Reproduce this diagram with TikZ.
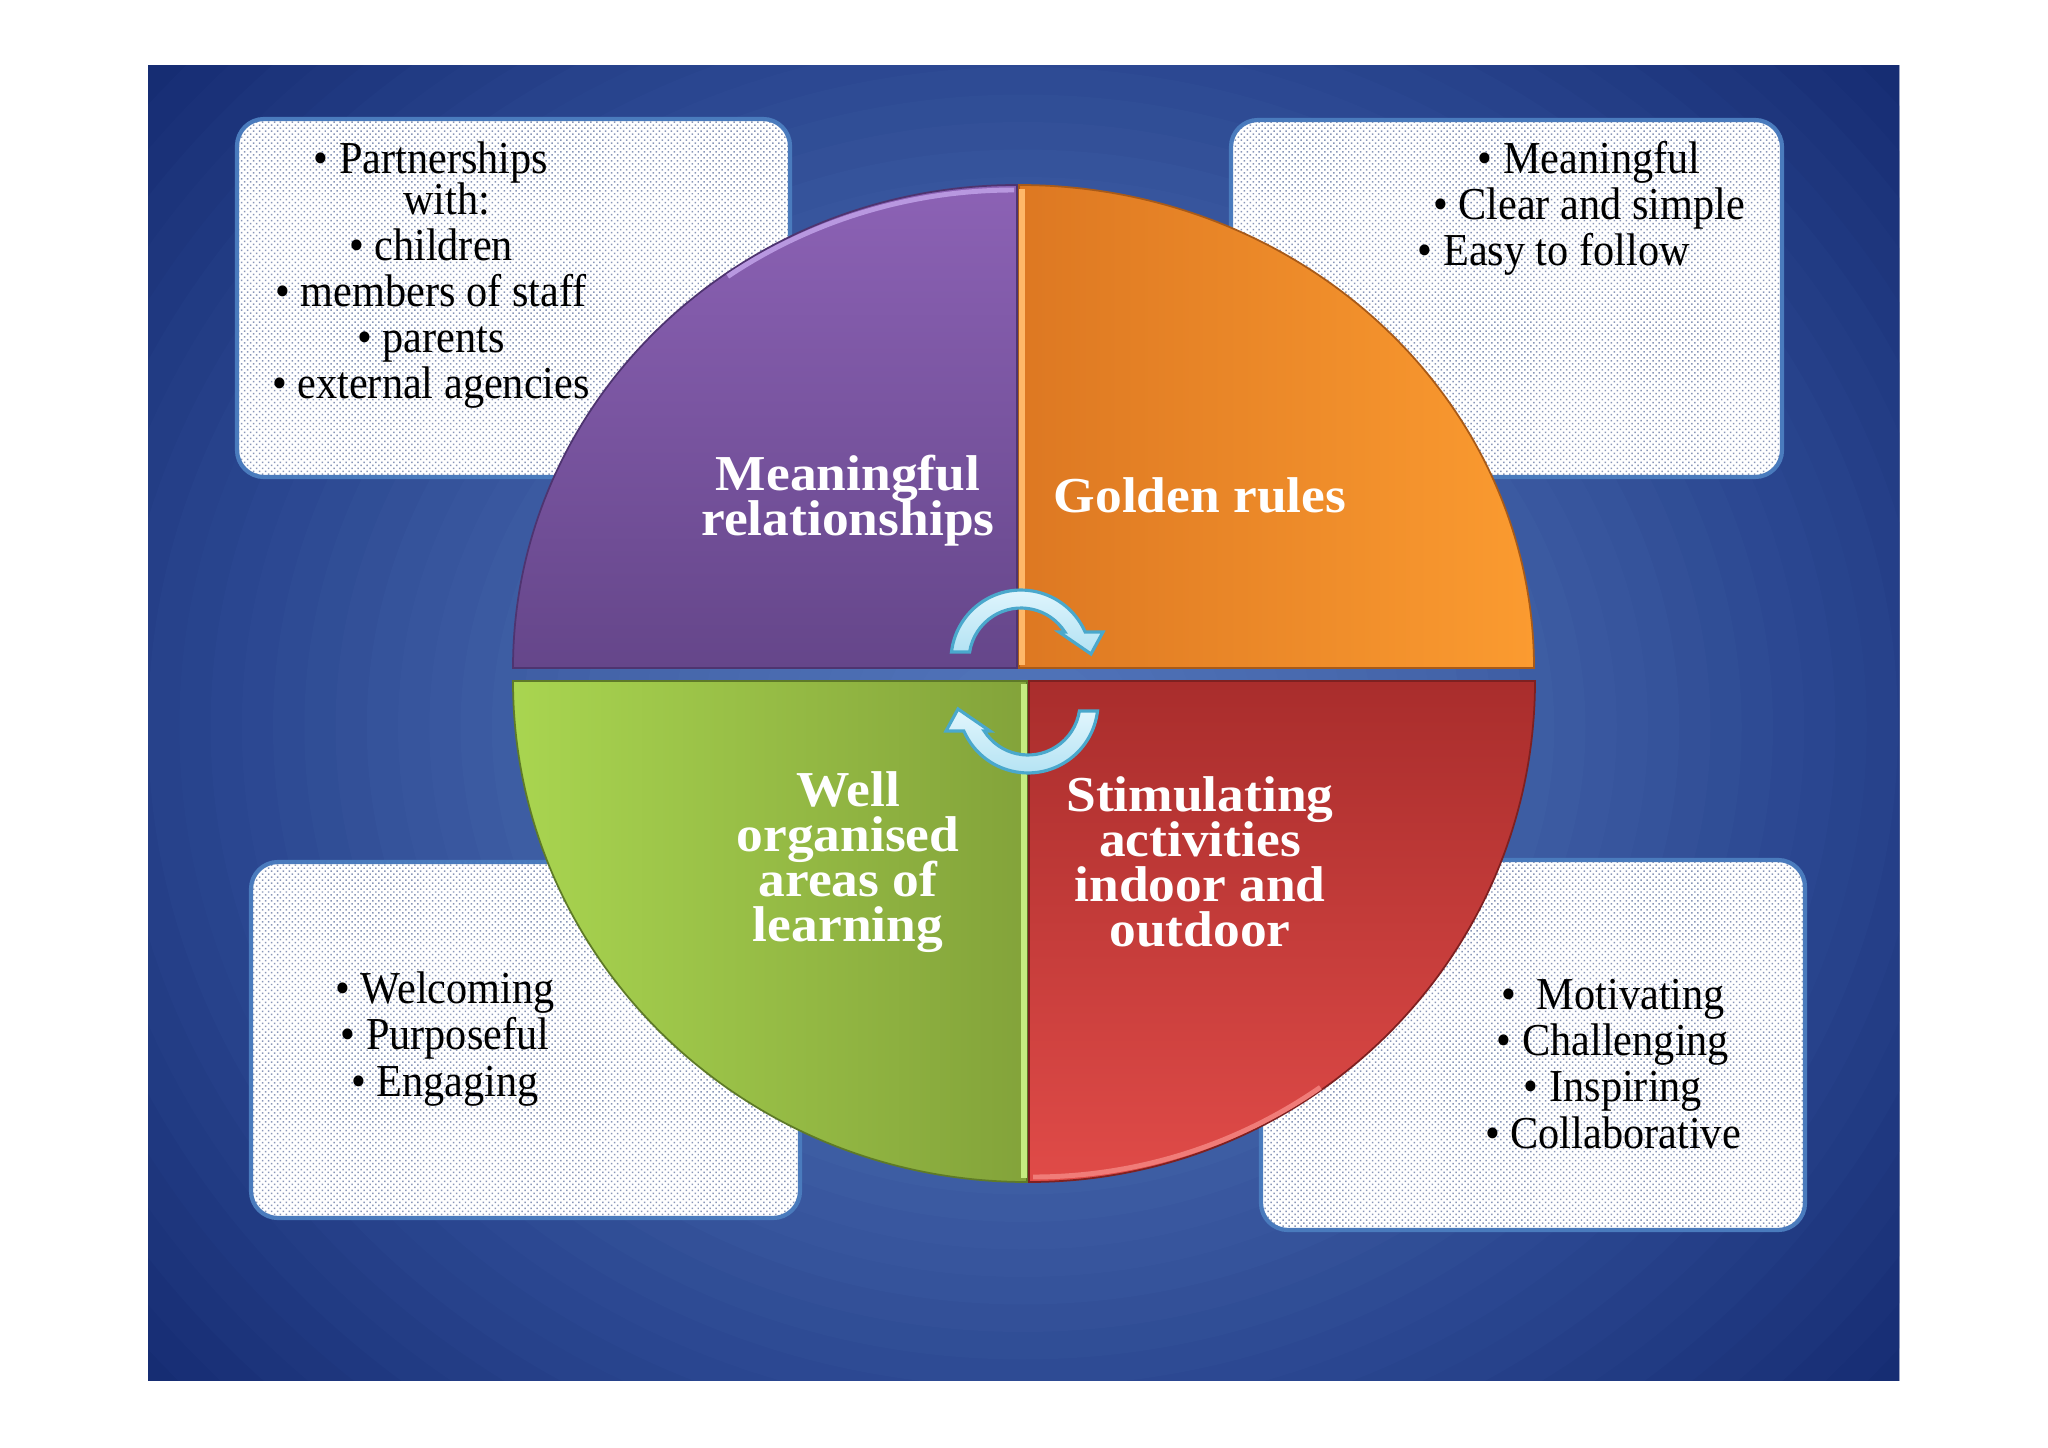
\documentclass[tikz,border=0pt]{standalone}
\usepackage{fontspec}
\setmainfont{Liberation Serif}
\newfontfamily\bodyfont[FakeStretch=0.925]{Liberation Serif}
\newfontfamily\piefont[FakeStretch=1.063]{Liberation Serif}
\usetikzlibrary{patterns.meta}
\definecolor{bgA}{HTML}{5174B9}
\definecolor{bgB}{HTML}{4464A9}
\definecolor{bgC}{HTML}{2A4690}
\definecolor{bgD}{HTML}{11266B}
\definecolor{boxedge}{HTML}{4A7BBD}
\definecolor{dotcol}{HTML}{8896B8}
\definecolor{purpT}{HTML}{8C62B5}
\definecolor{purpB}{HTML}{65468A}
\definecolor{purpD}{HTML}{4E3470}
\definecolor{purpH}{HTML}{B898E0}
\definecolor{oranL}{HTML}{DD7822}
\definecolor{oranR}{HTML}{FB9B30}
\definecolor{oranD}{HTML}{A85A18}
\definecolor{oranH}{HTML}{FFB868}
\definecolor{greenL}{HTML}{A9D550}
\definecolor{greenR}{HTML}{83A33A}
\definecolor{greenD}{HTML}{5E7A28}
\definecolor{greenH}{HTML}{C6EB80}
\definecolor{redT}{HTML}{A92D2C}
\definecolor{redB}{HTML}{E04B48}
\definecolor{redD}{HTML}{7E2020}
\definecolor{redH}{HTML}{F07C78}
\definecolor{arrowtop}{HTML}{E2F6FD}
\definecolor{arrowbot}{HTML}{B2E2F3}
\definecolor{arrowedge}{HTML}{4AA8CC}
\begin{document}
\setlength{\lineskiplimit}{-30pt}%
\begin{tikzpicture}[x=0.01cm,y=0.01cm,
  infobox/.style={rounded corners=2.7mm, draw=boxedge, line width=1.2pt,
    preaction={fill=white}, pattern={Dots[distance=1.2pt,radius=0.3pt,angle=45]}, pattern color=dotcol},
  bodytext/.style={align=center, font=\bodyfont\fontsize{13}{13.1}\selectfont, text=black, inner sep=0pt},
  pietext/.style={align=center, font=\piefont\bfseries\fontsize{14.3}{12.8}\selectfont, text=white, inner sep=0pt},
  quadedge/.style={line width=0.5pt},
  cyclearrow/.style={draw=arrowedge, line width=0.9pt, top color=arrowtop, bottom color=arrowbot},
]
\useasboundingbox (0,0) rectangle (2048,1447);
\fill[white] (0,0) rectangle (2048,1447);

% background with radial gradient built from nested ellipses
\begin{scope}
\clip (148,67) rectangle (1899,1381);
\fill[bgD] (148,67) rectangle (1899,1381);
\foreach \i in {0,...,13} {
  \pgfmathsetmacro\dd{1-\i*0.35/14}
  \pgfmathsetmacro\pp{\i/14*100}
  \fill[bgC!\pp!bgD] (1023,720) ellipse [x radius=\dd*1250, y radius=\dd*1100];
}
\foreach \i in {0,...,11} {
  \pgfmathsetmacro\dd{0.65-\i*0.3/12}
  \pgfmathsetmacro\pp{\i/12*100}
  \fill[bgB!\pp!bgC] (1023,720) ellipse [x radius=\dd*1250, y radius=\dd*1100];
}
\foreach \i in {0,...,13} {
  \pgfmathsetmacro\dd{0.35-\i*0.33/14}
  \pgfmathsetmacro\pp{\i/14*100}
  \fill[bgA!\pp!bgB] (1023,720) ellipse [x radius=\dd*1250, y radius=\dd*1100];
}
\end{scope}

% info boxes
\path[infobox] (237,970) rectangle (790,1328);
\path[infobox] (1231,970) rectangle (1782,1327);
\path[infobox] (251,229) rectangle (800,585);
\path[infobox] (1261,217) rectangle (1805,587);

\node[bodytext] (tl) at (431,1172) {• Partnerships\\[-1.6pt]\hspace*{9pt}with:\\ • children\\ • members of staff\\ • parents\\ • external agencies};
\node[bodytext] (tr) at (1589,1239) {• Meaningful\\ • Clear and simple\\ • Easy to follow\hspace*{20pt}};
\node[bodytext] (bl) at (445,408) {• Welcoming\\ • Purposeful\\ • Engaging};
\node[bodytext] (br) at (1613,383) {•\ \ Motivating\\ • Challenging\\ • Inspiring\\ • Collaborative};

% pie quadrants
\path[top color=purpT, bottom color=purpB, draw=purpD, quadedge]
  (1017,779) -- (513,779) arc[start angle=180, end angle=90, x radius=504, y radius=483] -- cycle;
\path[left color=oranL, right color=oranR, draw=oranD, quadedge]
  (1019,779) -- (1019,1262) arc[start angle=90, end angle=0, x radius=515, y radius=483] -- cycle;
\path[left color=greenL, right color=greenR, draw=greenD, quadedge]
  (1027,766) -- (513,766) arc[start angle=180, end angle=270, x radius=514, y radius=501] -- cycle;
\path[top color=redT, bottom color=redB, draw=redD, quadedge]
  (1029,766) -- (1029,265) arc[start angle=270, end angle=360, x radius=506, y radius=501] -- cycle;
\draw[oranH, line width=1.6pt] (1022,782) -- (1022,1258);
\draw[greenH, line width=1.6pt] (1024,763) -- (1024,269);
\draw[purpH, line width=1.4pt] (1014,1257) arc[start angle=90, end angle=125, x radius=499, y radius=478];
\draw[redH, line width=1.4pt] (1033,270) arc[start angle=270, end angle=305, x radius=501, y radius=496];

\node[pietext] (mr) at (848,946) {Meaningful\\relationships};
\node[pietext] (gr) at (1200,952) {Golden rules};
\node[pietext] (wo) at (848,585) {Well\\organised\\areas of\\learning};
\node[pietext] (sa) at (1200,585) {Stimulating\\activities\\indoor and\\outdoor};

% circular arrows
\begin{scope}[shift={(1021,787)}]
\path[cyclearrow] (-69.5,8) arc[start angle=173.4, end angle=23.6, radius=70]
  -- (82,28) -- (70,6) -- (38,28) -- (43.8,28)
  arc[start angle=32.6, end angle=171.2, radius=52] -- cycle;
\end{scope}
\begin{scope}[shift={(1028,744)}, rotate=180]
\path[cyclearrow] (-69.5,8) arc[start angle=173.4, end angle=23.6, radius=70]
  -- (82,28) -- (70,6) -- (38,28) -- (43.8,28)
  arc[start angle=32.6, end angle=171.2, radius=52] -- cycle;
\end{scope}
\end{tikzpicture}
\end{document}
